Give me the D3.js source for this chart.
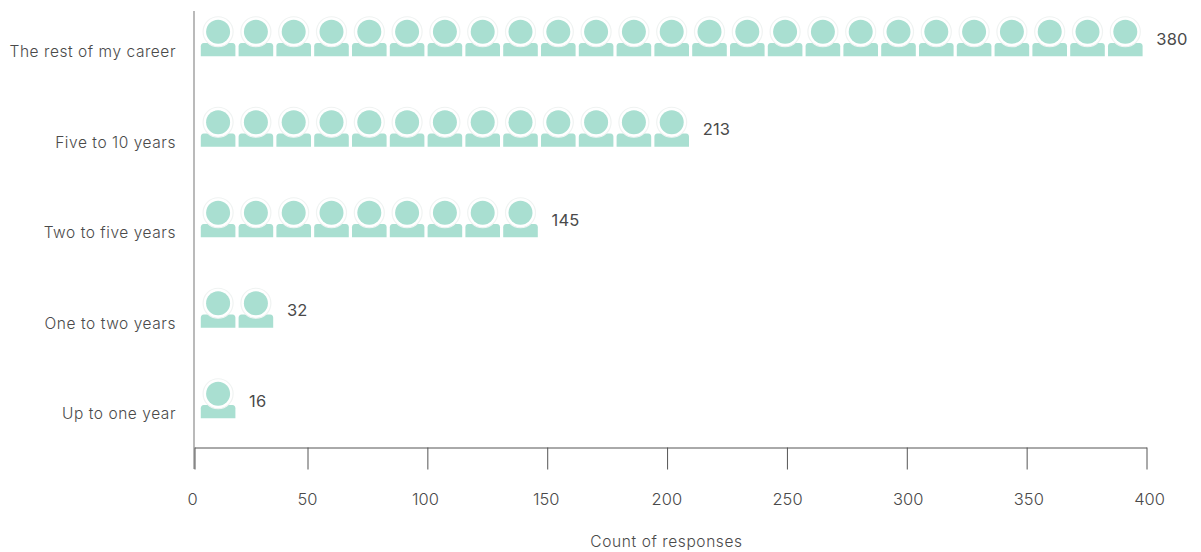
<!DOCTYPE html>
<html>
<head>
<meta charset="utf-8">
<script src="https://cdn.jsdelivr.net/npm/d3@7/dist/d3.min.js"></script>
<style>
  html, body { margin: 0; padding: 0; background: #fff; }
  svg { display: block; font-family: "Inter", sans-serif; }
</style>
</head>
<body>
<svg id="chart" width="1201" height="552"></svg>
<script>
// Survey responses: how long people expect to stay, drawn as rows of person icons.
const categories = ["The rest of my career", "Five to 10 years", "Two to five years", "One to two years", "Up to one year"];
const responses = [380, 213, 145, 32, 16];
const iconCounts = [25, 13, 9, 2, 1];
const xTicks = [0, 50, 100, 150, 200, 250, 300, 350, 400];
const xTitle = "Count of responses";

const svg = d3.select("#chart");

// The axis starts slightly compressed: zero sits closer to 50 than a linear step.
const x = d3.scaleLinear().domain([0, 50, 400]).range([194.5, 307.5, 1146.5]);
const tickLabelX = d3.scaleLinear().domain([0, 50, 100, 400]).range([192, 307, 425, 1149]);
const y = d3.scaleBand().domain(categories).range([6, 458.5]);
const slot = d3.scaleLinear().domain([0, 25]).range([200.8, 1145.8]);

const teal = "#a9dfd1";
const ink = "#4a4a4a";

// Person glyph, origin at the bottom-left corner of its shoulders.
const defs = svg.append("defs");
const person = defs.append("g").attr("id", "person");
person.append("path")
  .attr("d", "M0 0V-10Q0 -13 3 -13.2H31.6Q34.6 -13 34.6 -10V0Z")
  .attr("fill", teal);
// Faint halo, visible as side arcs around the head.
person.append("circle").attr("cx", 17.3).attr("cy", -24.5).attr("r", 15)
  .attr("fill", "#fff").attr("stroke", "#f0f3f2").attr("stroke-width", 1.2);
person.append("circle").attr("cx", 17.3).attr("cy", -24.5).attr("r", 12).attr("fill", teal);

const baseline = c => y(c) + y.bandwidth() / 2 + 5;

// One row of icons per category.
const rows = svg.append("g").selectAll("g").data(categories).join("g");
rows.selectAll("use")
  .data((c, i) => d3.range(iconCounts[i]).map(k => ({ c, k })))
  .join("use")
  .attr("href", "#person")
  .attr("x", d => slot(d.k))
  .attr("y", d => baseline(d.c));

// Value labels follow the end of each row.
svg.append("g").selectAll("text").data(categories).join("text")
  .attr("x", (c, i) => slot(iconCounts[i]) + 10.5)
  .attr("y", c => baseline(c) - 11.5)
  .attr("font-size", 16.5).attr("font-weight", 400).attr("letter-spacing", 0.2).attr("fill", ink)
  .text((c, i) => responses[i]);

// Category labels.
svg.append("g").selectAll("text").data(categories).join("text")
  .attr("x", 176)
  .attr("y", c => baseline(c) + 1)
  .attr("text-anchor", "end")
  .attr("font-size", 15.5).attr("font-weight", 300).attr("letter-spacing", 0.55).attr("fill", ink)
  .text(c => c);

// Left rule.
svg.append("line")
  .attr("x1", x(0) - 0.5).attr("x2", x(0) - 0.5).attr("y1", 11).attr("y2", 469)
  .attr("stroke", "#8c8c8c").attr("stroke-width", 1.2);

// Bottom axis with long downward ticks.
const axis = svg.append("g").attr("transform", "translate(0,447.5)")
  .call(d3.axisBottom(x).tickValues(xTicks).tickSize(22).tickSizeOuter(0).tickFormat(d3.format("d")));
axis.select(".domain").attr("stroke", "#555");
axis.selectAll(".tick line").attr("stroke", "#555");
axis.selectAll(".tick text")
  .attr("y", 57).attr("dy", 0)
  .attr("x", d => tickLabelX(d) - x(d))
  .attr("font-family", "Inter").attr("font-size", 16.5).attr("font-weight", 300).attr("fill", ink);

svg.append("text")
  .attr("x", 666.5).attr("y", 547)
  .attr("text-anchor", "middle")
  .attr("font-size", 15.5).attr("font-weight", 300).attr("letter-spacing", 0.6).attr("fill", ink)
  .text(xTitle);
</script>
</body>
</html>
